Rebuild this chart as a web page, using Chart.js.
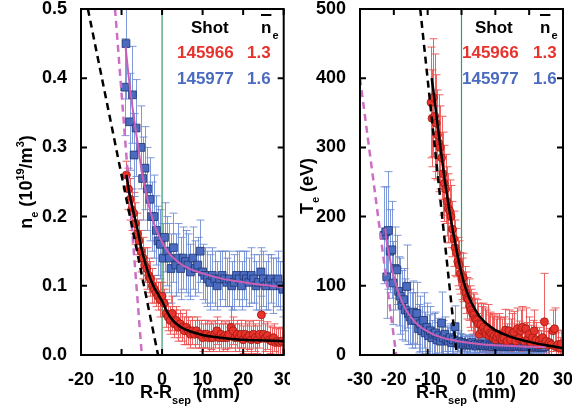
<!DOCTYPE html>
<html>
<head>
<meta charset="utf-8">
<script src="https://cdn.jsdelivr.net/npm/chart.js@4.4.1/dist/chart.umd.min.js"></script>
<style>
  body { margin: 0; background: #fff; }
  #wrap { position: relative; width: 572px; height: 414px; }
  canvas { position: absolute; top: 0; }
</style>
</head>
<body>
<div id="wrap">
  <canvas id="neChart" width="290" height="414" style="left:0"></canvas>
  <canvas id="teChart" width="282" height="414" style="left:290px"></canvas>
</div>
<script>
/*
  Data:
*/
// n_e, shot 145966 (red circles)
var neRedX = [-8.8, -8.3, -7.9, -7.5, -7.0, -6.6, -6.1, -5.7, -5.2, -4.7, -4.3, -3.8, -3.3, -2.9, -2.4, -1.9, -1.5, -1.0, -0.5, 0.0,
  0.5, 1.0, 1.5, 2.0, 2.5, 3.0, 3.5, 4.0, 4.5, 5.0, 5.5, 6.0, 6.5, 7.0, 7.5, 8.0, 8.5, 9.0, 9.5, 10.0,
  10.5, 11.0, 11.5, 12.0, 12.5, 13.0, 13.5, 14.0, 14.5, 15.0, 15.5, 16.0, 16.5, 17.0, 17.5, 18.0, 18.5, 19.0, 19.5, 20.0,
  20.5, 21.0, 21.5, 22.0, 22.5, 23.0, 23.5, 24.0, 24.5, 25.0, 25.5, 26.0, 26.5, 27.0, 27.5, 28.0, 28.5, 29.0, 29.5]
var neRedY = [0.26, 0.24, 0.225, 0.21, 0.205, 0.19, 0.175, 0.165, 0.15, 0.14, 0.13, 0.125, 0.115, 0.11, 0.1, 0.095, 0.09, 0.085, 0.08, 0.085,
  0.075, 0.06, 0.055, 0.05, 0.06, 0.045, 0.05, 0.04, 0.045, 0.04, 0.035, 0.04, 0.035, 0.03, 0.035, 0.03, 0.035, 0.03, 0.03, 0.025,
  0.03, 0.03, 0.025, 0.028, 0.025, 0.03, 0.035, 0.025, 0.03, 0.025, 0.028, 0.025, 0.03, 0.04, 0.035, 0.025, 0.03, 0.025, 0.03, 0.022,
  0.03, 0.025, 0.028, 0.022, 0.03, 0.025, 0.022, 0.03, 0.058, 0.03, 0.025, 0.028, 0.022, 0.02, 0.025, 0.018, 0.02, 0.018, 0.02]
var neRedErr = [0.02, 0.03, 0.03, 0.03, 0.03, 0.03, 0.03, 0.03, 0.03, 0.03, 0.025, 0.03, 0.025, 0.025, 0.025, 0.02, 0.02, 0.02, 0.025, 0.02,
  0.02, 0.02, 0.02, 0.02, 0.025, 0.02, 0.02, 0.02, 0.02, 0.02, 0.02, 0.025, 0.02, 0.02, 0.02, 0.02, 0.02, 0.02, 0.02, 0.02,
  0.02, 0.02, 0.02, 0.02, 0.02, 0.02, 0.02, 0.02, 0.02, 0.02, 0.02, 0.02, 0.02, 0.03, 0.02, 0.02, 0.02, 0.02, 0.02, 0.02,
  0.02, 0.02, 0.02, 0.02, 0.02, 0.02, 0.02, 0.02, 0.04, 0.03, 0.02, 0.02, 0.02, 0.02, 0.02, 0.02, 0.02, 0.02, 0.02]

// n_e, shot 145977 (blue squares)
var neBlueX = [-9.2, -8.9, -8.0, -7.3, -6.9, -6.4, -5.2, -4.8, -4.2, -3.6, -3.0, -2.6, -2.0, -1.4, -1.0, -0.4, 0.3, 0.6, 1.2, 1.8,
  2.2, 2.8, 3.4, 4.0, 4.6, 5.2, 5.8, 6.4, 7.0, 7.6, 8.2, 8.8, 9.4, 10.0, 10.6, 11.2, 11.8, 12.4, 13.0, 13.6,
  14.2, 14.8, 15.4, 16.0, 16.6, 17.2, 17.8, 18.4, 19.0, 19.6, 20.2, 20.8, 21.4, 22.0, 22.6, 23.2, 23.8, 24.4, 25.0, 25.6,
  26.2, 26.8, 27.4, 28.0, 28.6, 29.2, 29.8]
var neBlueY = [0.387, 0.45, 0.337, 0.376, 0.289, 0.328, 0.3, 0.255, 0.27, 0.24, 0.225, 0.2, 0.2, 0.18, 0.165, 0.16, 0.14, 0.17, 0.15, 0.14,
  0.125, 0.155, 0.13, 0.14, 0.125, 0.14, 0.135, 0.13, 0.12, 0.14, 0.125, 0.13, 0.15, 0.12, 0.115, 0.11, 0.105, 0.115, 0.11, 0.1,
  0.11, 0.115, 0.11, 0.105, 0.11, 0.1, 0.105, 0.115, 0.11, 0.1, 0.115, 0.11, 0.105, 0.115, 0.11, 0.1, 0.105, 0.12, 0.11, 0.1,
  0.105, 0.11, 0.1, 0.105, 0.11, 0.1, 0.095]
var neBlueErr = [0.07, 0.08, 0.07, 0.07, 0.06, 0.07, 0.06, 0.06, 0.06, 0.06, 0.06, 0.05, 0.06, 0.05, 0.05, 0.05, 0.05, 0.05, 0.05, 0.05,
  0.05, 0.05, 0.045, 0.05, 0.045, 0.045, 0.045, 0.045, 0.04, 0.045, 0.04, 0.04, 0.045, 0.04, 0.04, 0.04, 0.04, 0.04, 0.04, 0.035,
  0.04, 0.035, 0.04, 0.035, 0.04, 0.035, 0.04, 0.035, 0.04, 0.035, 0.035, 0.04, 0.035, 0.04, 0.035, 0.035, 0.04, 0.035, 0.04, 0.035,
  0.04, 0.035, 0.04, 0.035, 0.04, 0.035, 0.04]

// n_e fits
var neRedFitX = [-8.8, -8, -7, -6, -5, -4, -3, -2, -1, 0, 1, 2, 3, 4, 5, 7, 10, 13, 16, 20, 25, 30]
var neRedFitY = [0.26, 0.232, 0.205, 0.18, 0.152, 0.13, 0.112, 0.098, 0.088, 0.078, 0.065, 0.055, 0.048, 0.043, 0.039, 0.034, 0.029, 0.026, 0.024, 0.022, 0.021, 0.02]
var neBlueFitX = [-9, -8, -7, -6, -5, -4, -3, -2, -1, 0, 1, 2, 3, 5, 7, 10, 15, 20, 25, 30]
var neBlueFitY = [0.445, 0.39, 0.345, 0.305, 0.265, 0.235, 0.21, 0.19, 0.175, 0.163, 0.153, 0.145, 0.139, 0.13, 0.124, 0.118, 0.11, 0.105, 0.101, 0.098]
var neRedSlopeX = [-18.3, -1.0]
var neRedSlopeY = [0.5, 0.0]
var neBlueSlopeX = [-11.6, -5.0]
var neBlueSlopeY = [0.5, 0.0]

// T_e, shot 145966 (red circles)
var teRedX = [-9.0, -8.7, -8.3, -7.9, -7.5, -7.1, -6.7, -6.3, -5.9, -5.5, -5.1, -4.7, -4.3, -3.9, -3.5, -3.1, -2.7, -2.3, -1.9, -1.5,
  -1.1, -0.7, -0.3, 0.1, 0.5, 0.9, 1.3, 1.7, 2.1, 2.5, 2.9, 3.3, 3.7, 4.1, 4.5, 4.9, 5.3, 5.7, 6.1, 6.5,
  6.9, 7.3, 7.7, 8.1, 8.5, 8.9, 9.3, 9.7, 10.1, 10.5, 11, 11.5, 12, 12.5, 13, 13.5, 14, 14.5, 15, 15.5,
  16, 16.5, 17, 17.5, 18, 18.5, 19, 19.5, 20, 20.5, 21, 21.5, 22, 22.5, 23, 23.5, 24, 24.5, 25, 25.5,
  26, 26.5, 27, 27.5, 28, 28.5, 29, 29.5]
var teRedY = [365, 342, 372, 345, 335, 318, 306, 300, 285, 262, 248, 240, 222, 212, 208, 200, 182, 168, 155, 148,
  135, 130, 118, 110, 112, 98, 90, 82, 80, 70, 65, 60, 58, 52, 50, 45, 30, 44, 35, 40,
  33, 30, 38, 28, 32, 30, 25, 28, 22, 26, 30, 24, 22, 25, 36, 20, 35, 22, 30, 33,
  20, 38, 24, 35, 40, 20, 38, 22, 30, 18, 25, 35, 22, 15, 20, 15, 25, 48, 20, 14,
  18, 15, 35, 38, 12, 15, 10, 16]
var teRedErr = [80, 70, 85, 90, 70, 65, 70, 60, 60, 60, 55, 50, 50, 50, 45, 45, 40, 40, 40, 35,
  35, 35, 30, 30, 35, 30, 30, 30, 30, 30, 30, 30, 30, 30, 30, 30, 30, 30, 35, 35,
  35, 35, 35, 30, 30, 30, 30, 30, 30, 30, 30, 30, 30, 30, 30, 25, 30, 30, 30, 30,
  25, 30, 25, 30, 30, 25, 30, 25, 25, 25, 25, 30, 25, 20, 20, 20, 25, 70, 25, 20,
  20, 20, 30, 30, 20, 20, 15, 20]

// T_e, shot 145977 (blue squares)
var teBlueX = [-22.9, -22.4, -22.1, -21.6, -21.1, -20.6, -20.2, -19.6, -19.1, -18.6, -18.1, -17.6, -17.1, -16.6, -16.2, -15.7, -15.2, -14.7, -14.2, -13.7,
  -13.2, -12.7, -12.2, -11.7, -11.2, -10.7, -10.2, -9.7, -9.2, -8.7, -8.2, -7.7, -7.2, -6.7, -6.2, -5.9, -5.4, -4.9, -4.4, -3.9,
  -3.4, -2.9, -2.4, -1.9, -1.4, -0.9, -0.4, 0.1, 0.6, 1.1, 1.6, 2.1, 2.6, 3.1, 3.6, 4.1, 4.6, 5.1, 5.6, 6.1,
  6.6, 7.1, 7.6, 8.1, 8.6, 9.1, 9.6, 10.1, 10.6, 11.1, 11.6, 12.1, 12.6, 13.1, 13.6, 14.1, 14.6, 15.1, 15.6, 16.1,
  16.6, 17.1, 17.6, 18.1, 18.6, 19.1, 19.6, 20.1, 20.6, 21.1, 21.6, 22.1, 22.6, 23.1, 23.6, 24.1, 24.6]
var teBlueY = [173, 178, 113, 180, 150, 152, 104, 125, 123, 92, 85, 72, 80, 65, 99, 60, 55, 50, 62, 50,
  60, 38, 45, 35, 50, 32, 40, 28, 35, 25, 30, 32, 22, 28, 20, 46, 25, 30, 22, 20,
  25, 18, 22, 41, 18, 20, 16, 18, 15, 17, 14, 16, 15, 18, 14, 15, 13, 16, 14, 15,
  13, 14, 16, 13, 14, 12, 15, 13, 14, 12, 13, 15, 12, 13, 14, 12, 13, 12, 14, 13,
  12, 13, 14, 12, 13, 12, 14, 20, 12, 13, 11, 12, 13, 11, 12, 11, 12]
var teBlueErr = [70, 65, 60, 85, 60, 70, 60, 60, 50, 50, 55, 50, 45, 45, 60, 45, 40, 40, 45, 40,
  45, 35, 40, 35, 40, 30, 35, 30, 35, 25, 30, 30, 25, 25, 25, 45, 25, 25, 20, 20,
  20, 20, 20, 30, 15, 15, 15, 12, 12, 12, 12, 12, 12, 12, 12, 12, 10, 12, 10, 12,
  10, 10, 12, 10, 10, 10, 10, 10, 10, 10, 10, 10, 10, 10, 10, 10, 10, 10, 10, 10,
  10, 10, 10, 10, 10, 10, 10, 12, 10, 10, 8, 8, 10, 8, 8, 8, 8]

// T_e fits
var teRedFitX = [-8.8, -8, -7, -6, -5, -4, -3, -2, -1, 0, 1, 2, 3, 4, 5, 7, 10, 13, 16, 20, 25, 30]
var teRedFitY = [400, 370, 330, 292, 255, 222, 192, 165, 140, 118, 100, 86, 75, 66, 58, 47, 36, 29, 24, 19, 14, 10]
var teBlueFitX = [-22.6, -22, -21, -20, -19, -18, -17, -16, -15, -14, -12, -10, -8, -5, -2, 0, 5, 10, 15, 20, 25]
var teBlueFitY = [183, 160, 135, 113, 96, 82, 71, 62, 55, 49, 40, 34, 29, 24, 21, 19, 16, 14, 13, 12, 11.5]
var teRedSlopeX = [-12.2, -1.4]
var teRedSlopeY = [500, 0]
var teBlueSlopeX = [-30, -19.3]
var teBlueSlopeY = [400, 0]

var shots = ['145966', '145977']
var nbar = ['1.3', '1.6']

/*
  Styles:
*/
var red = '#e8322c'
var redDark = '#9a1a12'
var redBar = 'rgba(238,80,80,0.9)'
var blue = '#4a6bbf'
var blueDark = '#1e3370'
var blueBar = 'rgba(105,135,210,0.85)'
var pink = '#cc5fb5'
var pinkDash = '#cc6fc4'
var green = '#3a9a6a'
var FONT = '"Liberation Sans", Arial, Helvetica, sans-serif'

Chart.defaults.font.family = FONT

var pts = (xs, ys) => xs.map((x, i) => ({x: x, y: ys[i]}))

// vertical error bars with caps, drawn behind the markers
var errorBars = {
  id: 'errorBars',
  beforeDatasetsDraw(chart) {
    var ctx = chart.ctx, a = chart.chartArea
    var xs = chart.scales.x, ys = chart.scales.y
    ctx.save()
    ctx.beginPath()
    ctx.rect(a.left, a.top, a.right - a.left, a.bottom - a.top)
    ctx.clip()
    chart.data.datasets.forEach(ds => {
      if (!ds.errs) return
      ctx.strokeStyle = ds.errColor
      ctx.lineWidth = 1
      ds.data.forEach((p, i) => {
        var px = Math.round(xs.getPixelForValue(p.x)) + 0.5
        var top = ys.getPixelForValue(p.y + ds.errs[i])
        var bot = ys.getPixelForValue(p.y - ds.errs[i])
        ctx.beginPath()
        ctx.moveTo(px, top); ctx.lineTo(px, bot)
        ctx.moveTo(px - 4, top); ctx.lineTo(px + 4, top)
        ctx.moveTo(px - 4, bot); ctx.lineTo(px + 4, bot)
        ctx.stroke()
      })
    })
    ctx.restore()
  }
}

// box around the plot and inward tick marks on all four sides
var frame = {
  id: 'frame',
  afterDraw(chart) {
    var ctx = chart.ctx, a = chart.chartArea
    var xs = chart.scales.x, ys = chart.scales.y
    ctx.save()
    ctx.strokeStyle = '#000'
    ctx.lineWidth = 2
    ctx.strokeRect(a.left, a.top, a.right - a.left, a.bottom - a.top)
    ctx.beginPath()
    xs.ticks.forEach(t => {
      var px = xs.getPixelForValue(t.value)
      ctx.moveTo(px, a.bottom); ctx.lineTo(px, a.bottom - 6)
      ctx.moveTo(px, a.top); ctx.lineTo(px, a.top + 6)
    })
    ys.ticks.forEach(t => {
      var py = ys.getPixelForValue(t.value)
      ctx.moveTo(a.left, py); ctx.lineTo(a.left + 6, py)
      ctx.moveTo(a.right, py); ctx.lineTo(a.right - 6, py)
    })
    ctx.stroke()
    ctx.restore()
  }
}

// text with sub/superscripts: parts = [[text, 0 | 1 (sub) | -1 (sup)], ...]
function fontFor(p, size) {
  return 'bold ' + (p[1] ? Math.round(size * 0.62) : size) + 'px ' + FONT
}
function richWidth(ctx, parts, size) {
  var w = 0
  parts.forEach(p => {
    ctx.font = fontFor(p, size)
    w += ctx.measureText(p[0]).width
  })
  return w
}
function drawRich(ctx, parts, x, y, size, color) {
  ctx.fillStyle = color
  ctx.textBaseline = 'alphabetic'
  ctx.textAlign = 'left'
  parts.forEach(p => {
    ctx.font = fontFor(p, size)
    var dy = p[1] === 1 ? size * 0.33 : (p[1] === -1 ? -size * 0.42 : 0)
    ctx.fillText(p[0], x, y + dy)
    x += ctx.measureText(p[0]).width
  })
}

var labels = {
  id: 'labels',
  afterDraw(chart, args, o) {
    var ctx = chart.ctx
    ctx.save()
    // x title
    var xt = [['R-R', 0], ['sep', 1], [' (mm)', 0]]
    var w = richWidth(ctx, xt, 18)
    drawRich(ctx, xt, o.xTitleX - w / 2, 398, 18, '#000')
    // y title, rotated
    w = richWidth(ctx, o.yTitle, 18)
    ctx.save()
    ctx.translate(o.yTitleX, o.yTitleY)
    ctx.rotate(-Math.PI / 2)
    drawRich(ctx, o.yTitle, -w / 2, 0, 18, '#000')
    ctx.restore()
    // legend block
    var lx = o.legX, nx = o.nbarX
    ctx.font = 'bold 17px ' + FONT
    ctx.fillStyle = '#000'
    ctx.fillText('Shot', o.shotX, 33)
    ctx.fillText('n', nx, 33)
    var nw = ctx.measureText('n').width
    ctx.fillRect(nx, 14, nw, 2)
    ctx.font = 'bold 11px ' + FONT
    ctx.fillText('e', nx + nw + 1, 39)
    ctx.font = 'bold 17px ' + FONT
    ctx.fillStyle = red
    ctx.fillText(shots[0], lx, 58)
    ctx.fillText(nbar[0], o.valX, 58)
    ctx.fillStyle = blue
    ctx.fillText(shots[1], lx, 84)
    ctx.fillText(nbar[1], o.valX, 84)
    ctx.restore()
  }
}

function makeChart(el, cfg) {
  return new Chart(document.getElementById(el), {
    type: 'scatter',
    data: {
      datasets: [
        { data: pts(cfg.redFitX, cfg.redFitY), showLine: true, borderColor: '#000', borderWidth: 2.5,
          pointRadius: 0, cubicInterpolationMode: 'monotone', order: 0 },
        { data: pts(cfg.blueFitX, cfg.blueFitY), showLine: true, borderColor: pink, borderWidth: 2,
          pointRadius: 0, cubicInterpolationMode: 'monotone', order: 1 },
        { data: pts(cfg.redSlopeX, cfg.redSlopeY), showLine: true, borderColor: '#000', borderWidth: 2.5,
          borderDash: [7, 5], pointRadius: 0, order: 2 },
        { data: pts(cfg.blueSlopeX, cfg.blueSlopeY), showLine: true, borderColor: pinkDash, borderWidth: 2.5,
          borderDash: [7, 5], pointRadius: 0, order: 3 },
        { data: pts(cfg.redX, cfg.redY), errs: cfg.redErr, errColor: redBar, pointStyle: 'circle', pointRadius: 4,
          backgroundColor: red, borderColor: redDark, borderWidth: 0.8, order: 4 },
        { data: pts(cfg.blueX, cfg.blueY), errs: cfg.blueErr, errColor: blueBar, pointStyle: 'rect', pointRadius: 5.5,
          backgroundColor: blue, borderColor: blueDark, borderWidth: 0.8, order: 5 },
        { data: [{x: 0, y: 0}, {x: 0, y: cfg.yMax}], showLine: true, borderColor: green, borderWidth: 1.2,
          pointRadius: 0, order: 6 }
      ]
    },
    options: {
      responsive: false,
      animation: false,
      devicePixelRatio: 1,
      events: [],
      layout: { padding: { top: 9, right: cfg.padRight, left: 0, bottom: 0 } },
      plugins: {
        legend: { display: false },
        tooltip: { enabled: false },
        labels: cfg.labels
      },
      scales: {
        x: {
          type: 'linear', min: cfg.xMin, max: 30,
          grid: { display: false }, border: { display: false },
          ticks: { stepSize: 10, color: '#000', font: { size: 18, weight: 'bold' }, padding: 6, maxRotation: 0 },
          afterFit: s => { s.height = 59; s.paddingLeft = 0; s.paddingRight = 0 }
        },
        y: {
          min: 0, max: cfg.yMax,
          grid: { display: false }, border: { display: false },
          ticks: { stepSize: cfg.yStep, color: '#000', font: { size: 18, weight: 'bold' }, padding: 6,
            callback: v => v.toFixed(cfg.yDigits) },
          afterFit: s => { s.width = cfg.yWidth; s.paddingTop = 0; s.paddingBottom = 0 }
        }
      }
    },
    plugins: [errorBars, frame, labels]
  })
}

var neChart = makeChart('neChart', {
  redX: neRedX, redY: neRedY, redErr: neRedErr,
  blueX: neBlueX, blueY: neBlueY, blueErr: neBlueErr,
  redFitX: neRedFitX, redFitY: neRedFitY, blueFitX: neBlueFitX, blueFitY: neBlueFitY,
  redSlopeX: neRedSlopeX, redSlopeY: neRedSlopeY, blueSlopeX: neBlueSlopeX, blueSlopeY: neBlueSlopeY,
  xMin: -20, yMax: 0.5, yStep: 0.1, yDigits: 1, yWidth: 81, padRight: 6,
  labels: {
    xTitleX: 190, yTitleX: 32, yTitleY: 182,
    yTitle: [['n', 0], ['e', 1], [' (10', 0], ['19', -1], ['/m', 0], ['3', -1], [')', 0]],
    shotX: 191, nbarX: 261, legX: 177, valX: 247
  }
})

var teChart = makeChart('teChart', {
  redX: teRedX, redY: teRedY, redErr: teRedErr,
  blueX: teBlueX, blueY: teBlueY, blueErr: teBlueErr,
  redFitX: teRedFitX, redFitY: teRedFitY, blueFitX: teBlueFitX, blueFitY: teBlueFitY,
  redSlopeX: teRedSlopeX, redSlopeY: teRedSlopeY, blueSlopeX: teBlueSlopeX, blueSlopeY: teBlueSlopeY,
  xMin: -30, yMax: 500, yStep: 100, yDigits: 0, yWidth: 70, padRight: 9,
  labels: {
    xTitleX: 176, yTitleX: 23, yTitleY: 186,
    yTitle: [['T', 0], ['e', 1], [' (eV)', 0]],
    shotX: 185, nbarX: 250, legX: 172, valX: 243
  }
})
</script>
</body>
</html>
